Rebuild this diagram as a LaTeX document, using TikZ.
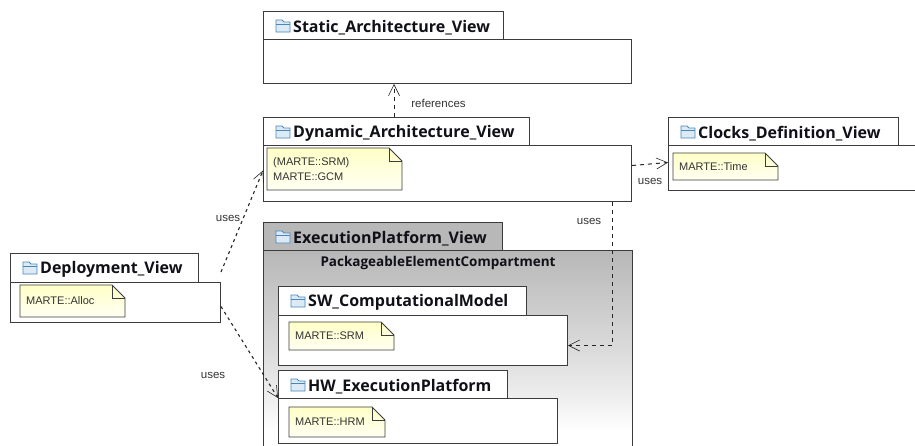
\documentclass[tikz,border=0pt]{standalone}
\usepackage{fontspec}
\setmainfont{Open Sans}
\newfontfamily\notefont{Liberation Sans}
\usetikzlibrary{arrows.meta,calc}
\definecolor{edgec}{HTML}{3C3C3C}
\definecolor{inkc}{HTML}{101018}
\definecolor{folderc}{HTML}{4A86B8}
\definecolor{folderf}{HTML}{DCEAF6}
\pgfdeclareverticalshading{execgrad}{100bp}{color(0bp)=(white); color(30bp)=(white); color(37.5bp)=(black!6); color(50bp)=(black!14); color(75bp)=(black!28); color(100bp)=(black!28)}
\tikzset{
  x=1pt,y=-1pt,
  pkgtab/.style={draw=edgec,line width=1pt,fill=white,minimum height=28pt,inner sep=0pt,anchor=north west},
  pkgbody/.style={draw=edgec,line width=1pt,fill=white,inner sep=0pt,anchor=north west},
  tabtitle/.style={font=\bfseries\fontsize{16}{18}\selectfont,text=inkc,inner sep=0pt,anchor=west},
  notelabel/.style={font=\notefont\fontsize{11}{15}\selectfont,text=black!80,inner sep=0pt,anchor=west,align=left},
  linklabel/.style={font=\notefont\fontsize{11.5}{14}\selectfont,text=black!80,inner sep=0pt},
  dep/.style={draw=black!85,line width=1pt,dash pattern=on 4pt off 4pt,-{Straight Barb[length=11pt,width=11pt,line width=0.6pt]}},
  depdense/.style={dep,line width=1.1pt,dash pattern=on 3pt off 3.5pt},
  notefill/.style={draw=edgec,line width=0.9pt,top color=yellow!22,bottom color=yellow!5},
  foldercol/.style={draw=folderc,line width=0.9pt,fill=folderf}
}
% name, x, y, tab width, body width, body height, title
\newcommand{\pkg}[7]{%
  \node[pkgtab,minimum width=#4pt] (#1tab) at (#2,#3) {};
  \node[pkgbody,minimum width=#5pt,minimum height=#6pt] (#1body) at (#2,#3+28) {};
  \pkgtitle{#1}{#2}{#3}{#7}}
\newcommand{\pkgtitle}[4]{%
  \draw[foldercol] (#2+13,#3+13) -- (#2+13,#3+9) -- (#2+19,#3+9) -- (#2+21,#3+11) -- (#2+27,#3+11) -- (#2+27,#3+21) -- (#2+13,#3+21) -- cycle;
  \draw[foldercol,fill=none] (#2+13,#3+13) -- (#2+27,#3+13);
  \node[tabtitle] (#1title) at (#2+30,#3+16.5) {#4};}
% name, x1, y1, x2, y2, text
\newcommand{\notebox}[6]{%
  \draw[notefill] (#2,#3) -- (#4-13,#3) -- (#4,#3+13) -- (#4,#5) -- (#2,#5) -- cycle;
  \draw[edgec,line width=0.9pt] (#4-13,#3) -- (#4-13,#3+13) -- (#4,#3+13);
  \node[notelabel] (#1) at (#2+6,{(#3+#5)/2}) {#6};}
\begin{document}
\begin{tikzpicture}
\useasboundingbox (0,0) rectangle (915,445);
\clip (0,0) rectangle (915,445);
\fill[white] (0,0) rectangle (915,445);

% Static
\pkg{static}{263}{11}{240}{368}{44}{Static\_Architecture\_View}

% Dynamic
\pkg{dyn}{263}{117}{266}{368}{56}{Dynamic\_Architecture\_View}
\notebox{dynnote}{267}{148}{402}{190}{(MARTE::SRM)\\MARTE::GCM}

% Clocks
\pkg{clocks}{668}{117}{230}{260}{45}{Clocks\_Definition\_View}
\notebox{clocksnote}{673}{153}{778}{180}{MARTE::Time}

% Execution platform
\node[pkgtab,fill=black!28,minimum width=239pt] (exectab) at (263,222) {};
\node[pkgbody,minimum width=369pt,minimum height=200pt,shading=execgrad] (execbody) at (263,250) {};
\pkgtitle{exec}{263}{222}{ExecutionPlatform\_View}
\node[font=\bfseries\fontsize{13.5}{15}\selectfont,text=inkc,inner sep=0pt] (compartment) at (438,263) {PackageableElementCompartment};

% SW
\node[pkgtab,minimum width=248pt,minimum height=29pt] (swtab) at (278,286) {};
\node[pkgbody,minimum width=289pt,minimum height=50pt] (swbody) at (278,315) {};
\pkgtitle{sw}{278}{286}{SW\_ComputationalModel}
\notebox{swnote}{289}{322}{394}{350}{MARTE::SRM}

% HW
\node[pkgtab,minimum width=229pt] (hwtab) at (278,370) {};
\node[pkgbody,minimum width=279pt,minimum height=45pt] (hwbody) at (278,398) {};
\pkgtitle{hw}{278}{370}{HW\_ExecutionPlatform}
\notebox{hwnote}{289}{407}{385}{437}{MARTE::HRM}

% Deployment
\node[pkgtab,minimum width=188pt,minimum height=29pt] (deptab) at (10,253) {};
\node[pkgbody,minimum width=210pt,minimum height=40pt] (depbody) at (10,282) {};
\pkgtitle{dep}{10}{253}{Deployment\_View}
\notebox{depnote}{20}{285}{125}{317}{MARTE::Alloc}

% Connectors
\draw[dep] ([xshift=-2.5pt]dyntab.north) -- ([xshift=-2.5pt]dyntab.north |- staticbody.south);
\draw[dep] ([yshift=8pt]dynbody.east) -- ([yshift=5.5pt]clocksbody.west);
\draw[dep] ([xshift=165pt]dynbody.south) -- ([xshift=165pt,yshift=-5pt]dynbody.south |- swbody.east) -- ([yshift=-5pt]swbody.east);
\draw[depdense] ([yshift=10pt]depbody.north east) -- ([yshift=3pt]dynbody.west);
\draw[depdense] ([yshift=-4pt]depbody.east) -- (hwbody.north west);

% Labels
\node[linklabel] (lblrefs) at (438.5,103) {references};
\node[linklabel] (lbluses1) at (650,181) {uses};
\node[linklabel] (lbluses2) at (589,221) {uses};
\node[linklabel] (lbluses3) at (228,218) {uses};
\node[linklabel] (lbluses4) at (213,375) {uses};
\end{tikzpicture}
\end{document}
